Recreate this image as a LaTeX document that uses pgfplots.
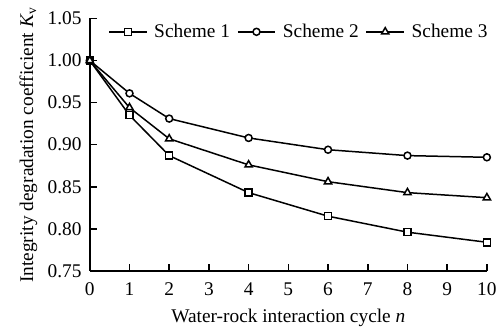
\documentclass[border=0pt]{standalone}
\usepackage{fontspec}
\setmainfont{Liberation Serif}
\usepackage{pgfplots}
\pgfplotsset{compat=1.18}
\begin{document}
\fontsize{9.7}{11.6}\selectfont
\begin{tikzpicture}
\begin{axis}[
  scale only axis,
  width=199pt, height=126.5pt,
  xmin=0, xmax=10, ymin=0.75, ymax=1.05,
  axis x line=bottom, axis y line=left,
  axis line style={-, line width=1pt},
  xtick={0,1,...,10},
  ytick={0.75,0.80,...,1.05},
  yticklabel style={xshift=-0.7pt, /pgf/number format/.cd, fixed, fixed zerofill, precision=2},
  xticklabel style={yshift=-2.5pt},
  /pgf/number format/assume math mode=true,
  tick align=inside,
  major tick length=3.5pt,
  tick style={line width=0.8pt, black},
  tick label style={font=\fontsize{9.7}{11.6}\selectfont},
  label style={font=\fontsize{9.7}{11.6}\selectfont},
  xlabel={Water-rock interaction cycle \textit{n}},
  ylabel={Integrity degradation coefficient \textit{K}\textsubscript{v}},
  xlabel style={yshift=0pt},
  ylabel style={yshift=-1.5pt},
  legend columns=3,
  legend style={draw=none, fill=none, at={(1.0,0.985)}, anchor=north east,
    xshift=2pt, yshift=1pt,
    font=\fontsize{9.7}{11.6}\selectfont, column sep=2pt, inner sep=0pt,
    nodes={inner sep=1.5pt}},
  legend image code/.code={
    \draw[#1, mark repeat=2, mark phase=2] plot coordinates {(0cm,0cm) (0.33cm,0cm) (0.66cm,0cm)};},
  every axis plot/.append style={black, line width=0.75pt, mark size=1.75pt, mark options={solid, fill=white, line width=0.75pt}},
]
\addplot[mark=square*] coordinates {(0,1.000) (1,0.935) (2,0.887) (4,0.843) (6,0.815) (8,0.796) (10,0.784)};
\addlegendentry{Scheme 1}
\addplot[mark=*] coordinates {(0,1.000) (1,0.961) (2,0.931) (4,0.908) (6,0.894) (8,0.887) (10,0.885)};
\addlegendentry{Scheme 2}
\addplot[mark=triangle*, mark size=2.1pt] coordinates {(0,1.000) (1,0.944) (2,0.907) (4,0.876) (6,0.856) (8,0.843) (10,0.837)};
\addlegendentry{Scheme 3}
\end{axis}
\path ([xshift=-45pt,yshift=7.5pt]current axis.north west);
\path ([xshift=7.5pt,yshift=-29.5pt]current axis.south east);
\end{tikzpicture}
\end{document}
